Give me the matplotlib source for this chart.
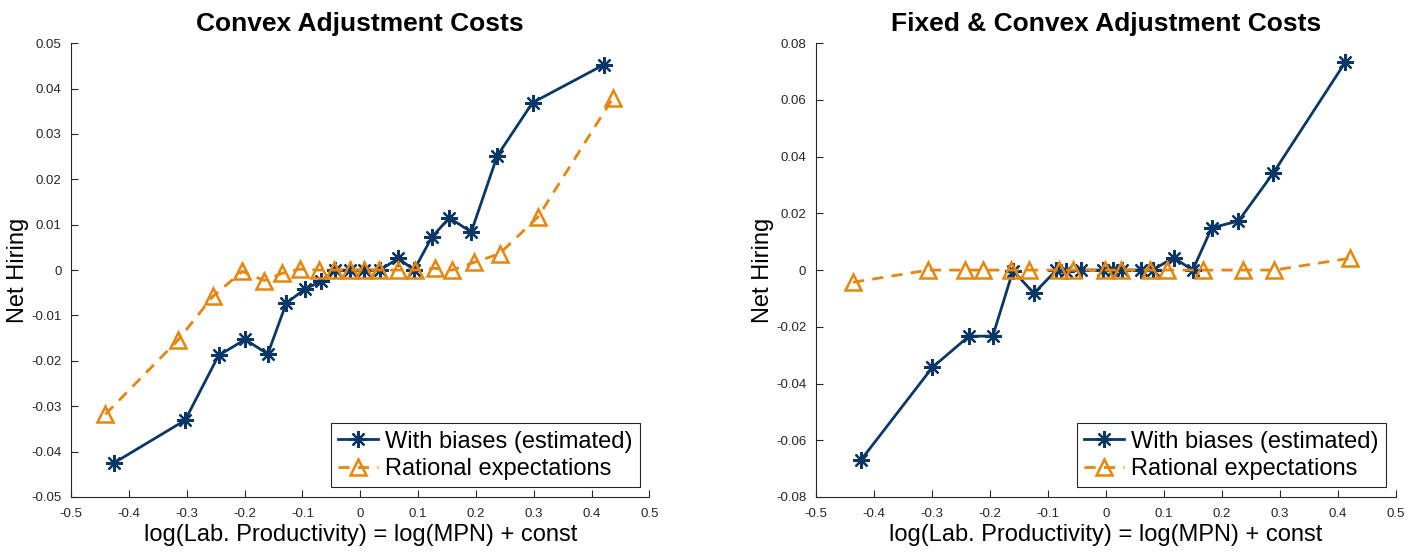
import numpy as np
import matplotlib.pyplot as plt
from matplotlib.ticker import FuncFormatter

# Convex adjustment costs
xb1 = [-0.426, -0.303, -0.245, -0.199, -0.160, -0.128, -0.096, -0.068, -0.044, -0.017,
       0.007, 0.034, 0.066, 0.093, 0.124, 0.154, 0.192, 0.237, 0.298, 0.422]
yb1 = [-0.0425, -0.0331, -0.0188, -0.0153, -0.0185, -0.0073, -0.0042, -0.0025, 0.0, 0.0,
       0.0, 0.0, 0.0026, 0.0, 0.0073, 0.0115, 0.0084, 0.0252, 0.0369, 0.0453]
xr1 = [-0.441, -0.315, -0.255, -0.204, -0.166, -0.135, -0.105, -0.072, -0.045, -0.018,
       0.007, 0.033, 0.066, 0.095, 0.129, 0.159, 0.197, 0.241, 0.308, 0.437]
yr1 = [-0.0318, -0.0154, -0.0058, -0.0003, -0.0023, -0.0007, 0.0002, 0.0, 0.0, 0.0,
       0.0, 0.0, 0.0, 0.0, 0.0004, 0.0, 0.0017, 0.0036, 0.0118, 0.0379]

# Fixed & convex adjustment costs
xb2 = [-0.422, -0.299, -0.236, -0.195, -0.160, -0.124, -0.085, -0.068, -0.042, -0.004,
       0.013, 0.028, 0.061, 0.081, 0.117, 0.150, 0.183, 0.229, 0.289, 0.413]
yb2 = [-0.0669, -0.0343, -0.0233, -0.0233, -0.0002, -0.0082, 0.0, -0.0005, 0.0, 0.0,
       0.0, 0.0, 0.0, 0.0, 0.0044, 0.0, 0.0149, 0.0173, 0.0342, 0.0732]
xr2 = [-0.436, -0.306, -0.242, -0.211, -0.163, -0.133, -0.081, -0.056, -0.001, 0.026,
       0.077, 0.106, 0.168, 0.236, 0.291, 0.422]
yr2 = [-0.0043, 0.0, 0.0, 0.0, 0.0, 0.0, 0.0, 0.0, 0.0, 0.0,
       0.0, 0.0, 0.0, 0.0, 0.0, 0.0042]

titles = ["Convex Adjustment Costs", "Fixed & Convex Adjustment Costs"]
ylims = [(-0.05, 0.05), (-0.08, 0.08)]
yticks = [np.arange(-0.05, 0.051, 0.01), np.arange(-0.08, 0.081, 0.02)]
xticks = np.arange(-0.5, 0.51, 0.1)

blue = "#0b3768"
orange = "#e8850c"
axcol = "#262626"

plt.rcParams['font.family'] = ['Liberation Sans', 'DejaVu Sans']

fig = plt.figure(figsize=(14.24, 5.54), dpi=100)
ax1 = fig.add_axes([0.050, 0.103, 0.406, 0.819])
ax2 = fig.add_axes([0.573, 0.103, 0.407, 0.819])

fmt = FuncFormatter(lambda v, p: "0" if abs(v) < 1e-9 else f"{v:g}")

for ax, xb, yb, xr, yr, t, yl, yt in zip([ax1, ax2], [xb1, xb2], [yb1, yb2], [xr1, xr2],
                                         [yr1, yr2], titles, ylims, yticks):
    ax.plot(xb, yb, '-', color=blue, lw=2, marker=(8, 2, 0), ms=12, mew=1.6,
            label="With biases (estimated)")
    ax.plot(xr, yr, '--', color=orange, lw=2, marker='^', ms=11, mew=1.8,
            mfc='none', dashes=(4, 3), label="Rational expectations")
    ax.set_xlim(-0.5, 0.5)
    ax.set_ylim(*yl)
    ax.set_xticks(xticks)
    ax.set_yticks(yt)
    ax.xaxis.set_major_formatter(fmt)
    ax.yaxis.set_major_formatter(fmt)
    ax.spines['top'].set_visible(False)
    ax.spines['right'].set_visible(False)
    for s in ['left', 'bottom']:
        ax.spines[s].set_color(axcol)
        ax.spines[s].set_linewidth(0.8)
    ax.tick_params(direction='in', length=5, width=0.8, colors=axcol, labelsize=9.5)
    ax.tick_params(axis='x', pad=8)
    ax.tick_params(axis='y', pad=7)
    ax.set_title(t, fontsize=19, fontweight='bold', pad=9)
    ax.set_xlabel("log(Lab. Productivity) = log(MPN) + const", fontsize=17, labelpad=3)
    ax.set_ylabel("Net Hiring", fontsize=17)
    ax.yaxis.set_label_coords(-0.073, 0.5)
    leg = ax.legend(loc='lower right', fontsize=17, fancybox=False, framealpha=1,
                    edgecolor=axcol, borderaxespad=0.4, handlelength=1.7,
                    handletextpad=0.3, borderpad=0.3, labelspacing=0.25)
    leg.get_frame().set_linewidth(0.8)

fig.savefig("out.png", dpi=100)
